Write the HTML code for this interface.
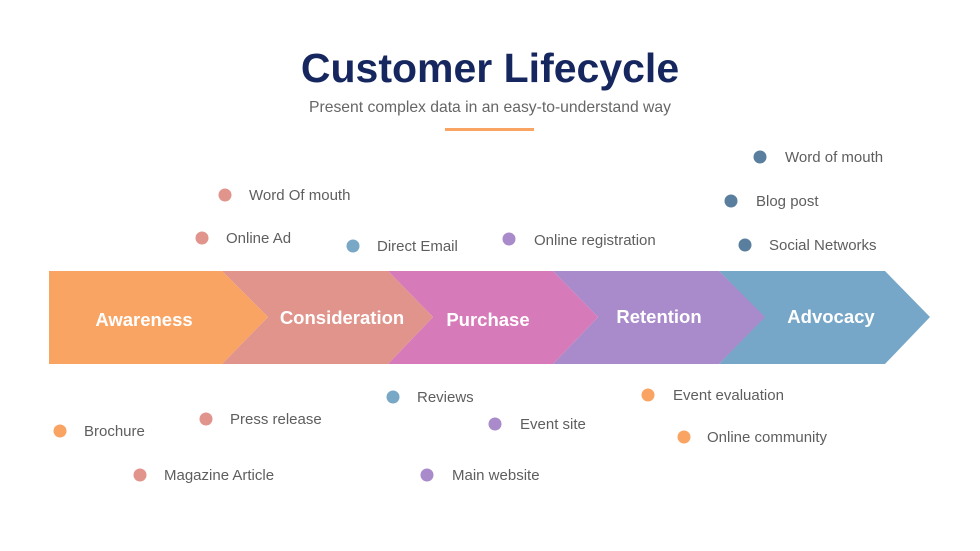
<!DOCTYPE html>
<html><head><meta charset="utf-8"><style>
html,body{margin:0;padding:0;background:#fff;}
svg{display:block;}
text{font-family:"Liberation Sans",sans-serif;}
.l{font-size:15px;fill:#5e5e5e;}
.s{font-size:18.5px;font-weight:bold;fill:#fff;}
</style></head><body>
<svg width="980" height="551" viewBox="0 0 980 551">
<text x="490" y="82" text-anchor="middle" style="font-size:41px;font-weight:bold;fill:#16265e">Customer Lifecycle</text>
<text x="490" y="112" text-anchor="middle" style="font-size:15.7px;fill:#666">Present complex data in an easy-to-understand way</text>
<rect x="445" y="128" width="89" height="3" fill="#F9A463"/>

<polygon points="719,271 885,271 930,317 885,364 719,364 764,317" fill="#76A7C8"/>
<polygon points="553,271 719,271 765,317 719,364 553,364 598,317" fill="#A98ACB"/>
<polygon points="388,271 553,271 598,317 553,364 388,364 433,317" fill="#D77AB9"/>
<polygon points="222,271 388,271 433,317 388,364 222,364 268,317" fill="#E0948B"/>
<polygon points="49,271 222,271 268,317 222,364 49,364" fill="#F9A463"/>

<text x="144" y="326" text-anchor="middle" class="s">Awareness</text>
<text x="342" y="324" text-anchor="middle" class="s">Consideration</text>
<text x="488" y="326" text-anchor="middle" class="s">Purchase</text>
<text x="659" y="323" text-anchor="middle" class="s">Retention</text>
<text x="831" y="323" text-anchor="middle" class="s">Advocacy</text>

<circle cx="225" cy="195" r="6.5" fill="#E0948B"/><text x="249" y="200" class="l">Word Of mouth</text>
<circle cx="202" cy="238" r="6.5" fill="#E0948B"/><text x="226" y="243" class="l">Online Ad</text>
<circle cx="353" cy="246" r="6.5" fill="#79A8C7"/><text x="377" y="251" class="l">Direct Email</text>
<circle cx="509" cy="239" r="6.5" fill="#A98ACB"/><text x="534" y="245" class="l">Online registration</text>
<circle cx="760" cy="157" r="6.5" fill="#5A7F9E"/><text x="785" y="162" class="l">Word of mouth</text>
<circle cx="731" cy="201" r="6.5" fill="#5A7F9E"/><text x="756" y="206" class="l">Blog post</text>
<circle cx="745" cy="245" r="6.5" fill="#5A7F9E"/><text x="769" y="250" class="l">Social Networks</text>

<circle cx="60" cy="431" r="6.5" fill="#F9A463"/><text x="84" y="436" class="l">Brochure</text>
<circle cx="206" cy="419" r="6.5" fill="#E0948B"/><text x="230" y="424" class="l">Press release</text>
<circle cx="140" cy="475" r="6.5" fill="#E0948B"/><text x="164" y="480" class="l">Magazine Article</text>
<circle cx="393" cy="397" r="6.5" fill="#79A8C7"/><text x="417" y="402" class="l">Reviews</text>
<circle cx="495" cy="424" r="6.5" fill="#A98ACB"/><text x="520" y="429" class="l">Event site</text>
<circle cx="427" cy="475" r="6.5" fill="#A98ACB"/><text x="452" y="480" class="l">Main website</text>
<circle cx="648" cy="395" r="6.5" fill="#F9A463"/><text x="673" y="400" class="l">Event evaluation</text>
<circle cx="684" cy="437" r="6.5" fill="#F9A463"/><text x="707" y="442" class="l">Online community</text>
</svg>
</body></html>
